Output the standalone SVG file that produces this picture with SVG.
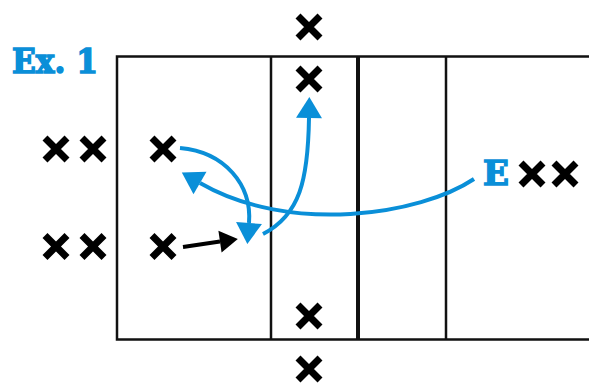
<svg xmlns="http://www.w3.org/2000/svg" xmlns:xlink="http://www.w3.org/1999/xlink" width="589" height="383" viewBox="0 0 589 383">
<style>
.court{fill:none;stroke:#111;stroke-width:2.5}
.x{stroke:#000;stroke-width:7;fill:none}
.blue{fill:none;stroke:#0a8fd8;stroke-width:4}
.black{fill:none;stroke:#000;stroke-width:4}
.lbl{font-family:"DejaVu Serif","Liberation Serif",serif;font-weight:bold;fill:#0a8fd8;stroke:#0a8fd8;stroke-width:1.6}
</style>
<defs>
<path id="xm" class="x" d="M-11,-11 L11,11 M11,-11 L-11,11"/>
<marker id="ab" markerUnits="userSpaceOnUse" markerWidth="24" markerHeight="28" viewBox="0 -14 22 28" refX="0" refY="0" orient="auto">
<path d="M0,-13 L21,0 L0,13 Z" fill="#0a8fd8"/>
</marker>
<marker id="ak" markerUnits="userSpaceOnUse" markerWidth="20" markerHeight="24" viewBox="0 -12 19 24" refX="0" refY="0" orient="auto">
<path d="M0,-11 L18,0 L0,11 Z" fill="#000"/>
</marker>
</defs>
<g id="court">
<path class="court" d="M589,56.5 H117 V339.5 H589"/>
<line class="court" x1="271" y1="56" x2="271" y2="340"/>
<line class="court" x1="358" y1="56" x2="358" y2="340" style="stroke-width:4"/>
<line class="court" x1="446" y1="56" x2="446" y2="340"/>
</g>
<g id="title"><text class="lbl" x="12" y="72.5" font-size="33" textLength="86" lengthAdjust="spacingAndGlyphs">Ex. 1</text></g>
<g id="p-top1"><use xlink:href="#xm" x="309" y="27"/></g>
<g id="p-top2"><use xlink:href="#xm" x="309" y="79"/></g>
<g id="p-l1a"><use xlink:href="#xm" x="56" y="149"/></g>
<g id="p-l1b"><use xlink:href="#xm" x="93" y="149"/></g>
<g id="p-l1c"><use xlink:href="#xm" x="163" y="149"/></g>
<g id="p-l2a"><use xlink:href="#xm" x="56" y="246.5"/></g>
<g id="p-l2b"><use xlink:href="#xm" x="93" y="246.5"/></g>
<g id="p-l2c"><use xlink:href="#xm" x="163" y="246.5"/></g>
<g id="p-bot1"><use xlink:href="#xm" x="309" y="316"/></g>
<g id="p-bot2"><use xlink:href="#xm" x="309" y="369"/></g>
<g id="p-right">
<text class="lbl" x="483" y="184.5" font-size="34">E</text>
<use xlink:href="#xm" x="532" y="174"/>
<use xlink:href="#xm" x="565" y="174"/>
</g>
<g id="connectors">
<path class="blue" d="M180,148 C225,152 252,185 249,223" marker-end="url(#ab)"/>
<path class="blue" d="M474,179 C420,215 290,235 200,183" marker-end="url(#ab)"/>
<path class="blue" d="M263,234 C300,215 308,180 309,118" marker-end="url(#ab)"/>
<path class="black" d="M183,247 L220,241.6" marker-end="url(#ak)"/>
</g>
</svg>
